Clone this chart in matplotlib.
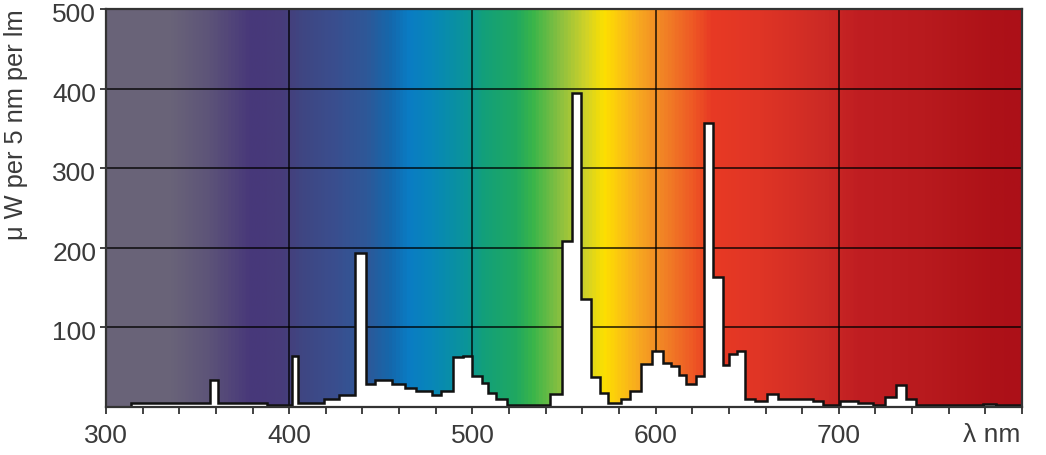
import numpy as np
import matplotlib
matplotlib.use("Agg")
import matplotlib.pyplot as plt
import matplotlib.transforms as mtransforms
from matplotlib.colors import LinearSegmentedColormap

# ---- data ----
edges_nm = [300, 313.6, 357, 361, 388, 401.4, 405, 419, 427, 436, 442, 447, 456,
            463, 469, 478, 483, 489.6, 495, 500, 505, 508.7, 513, 518.7, 542.2,
            548.7, 554.2, 559.3, 565, 569.5, 574, 581, 586, 592, 597.8, 604,
            608.6, 612.8, 616.8, 622.3, 626.4, 631.5, 636.6, 640.2, 644.2, 648.8,
            654, 660.6, 667, 686, 691.5, 698.8, 700.5, 710.6, 718.8, 725, 731.4,
            736.5, 742.4, 778.6, 786, 800]
power = [0, 5, 33, 5, 2, 63, 4, 9, 15, 193, 28, 33, 28, 23, 19, 14, 20, 62, 64,
         38, 29, 17, 10, 2, 16, 208, 394, 135, 37, 17, 4, 9, 19, 53, 70, 55, 51,
         40, 28, 38, 357, 163, 52, 66, 70, 10, 7, 16, 10, 7, 2.5, 1, 7, 4, 2, 12,
         27, 10, 2, 3, 2]
x_ticks = [300, 400, 500, 600, 700, 800]
x_ticklabels = ["300", "400", "500", "600", "700", ""]
y_ticks = [100, 200, 300, 400, 500]
y_ticklabels = ["100", "200", "300", "400", "500"]
y_label = "μ W per 5 nm per lm"
x_unit = "λ nm"

# spectrum background colours (style)
stops = [(300, "#6a6478"), (335, "#696379"), (355, "#5d5478"), (378, "#48387a"),
         (396, "#473c7a"), (406, "#3f4682"), (424, "#3a4e8e"), (442, "#2e5898"),
         (455, "#1468ac"), (465, "#0a7cc4"), (478, "#0887b8"), (497, "#0b9598"),
         (506, "#13a07a"), (524, "#20a860"), (533, "#3ab54a"), (548, "#8cc040"),
         (562, "#d0d228"), (572, "#fde000"), (580, "#fcc810"), (591, "#f7a820"),
         (602, "#f28a25"), (620, "#ee5a25"), (631, "#e83a24"), (657, "#e03526"),
         (693, "#cc2a25"), (711, "#c01e22"), (748, "#b81a1e"), (784, "#ae1218"),
         (800, "#ac1018")]
cmap = LinearSegmentedColormap.from_list(
    "spec", [((w - 300) / 500.0, c) for w, c in stops])

plt.rcParams["font.family"] = ["Liberation Sans", "DejaVu Sans"]
txt_color = "#3a3a3a"
fs = 19

fig = plt.figure(figsize=(10.46, 4.56), dpi=100)
ax = fig.add_axes([106 / 1046, 1 - 407.5 / 456, 916 / 1046, 397.5 / 456])

grad = np.linspace(0, 1, 1200).reshape(1, -1)
ax.imshow(grad, cmap=cmap, aspect="auto", extent=[300, 800, 0, 500],
          origin="lower", zorder=0, interpolation="bilinear")

for xv in x_ticks[1:-1]:
    ax.axvline(xv, color="black", alpha=0.7, lw=1.4, zorder=1)
for yv in y_ticks[:-1]:
    ax.axhline(yv, color="black", alpha=0.7, lw=1.4, zorder=1)

ax.stairs(power, edges_nm, baseline=0, fill=True, facecolor="white",
          edgecolor="none", zorder=2)
ax.stairs(power, edges_nm, baseline=None, fill=False, color="#111111",
          lw=1.8, zorder=3)

ax.set_xlim(300, 800)
ax.set_ylim(0, 500)
ax.set_xticks(x_ticks)
ax.set_xticklabels(x_ticklabels)
ax.set_xticks(np.arange(300, 801, 20), minor=True)
ax.set_yticks(y_ticks)
ax.set_yticklabels(y_ticklabels)

ax.tick_params(axis="x", which="both", direction="out", length=5, width=1.3,
               color="#333333", labelsize=fs, labelcolor=txt_color, pad=7)
ax.tick_params(axis="y", which="both", direction="out", length=4, width=1.3,
               color="#333333", labelsize=fs, labelcolor=txt_color, pad=3)

# y tick labels sit slightly below their grid lines in the reference
offset = mtransforms.ScaledTranslation(0, -3 / 100, fig.dpi_scale_trans)
for lab in ax.get_yticklabels():
    lab.set_transform(lab.get_transform() + offset)

for s in ax.spines.values():
    s.set_color("#333333")
    s.set_linewidth(1.6)
    s.set_zorder(4)

fig.text(1020 / 1046, 1 - 435 / 456, x_unit, ha="right", va="center",
         fontsize=fs, color=txt_color)
fig.text(16 / 1046, 1 - 240 / 456, y_label, rotation=90, ha="center",
         va="bottom", fontsize=18.3, color=txt_color)

fig.savefig("out.png", dpi=100)
